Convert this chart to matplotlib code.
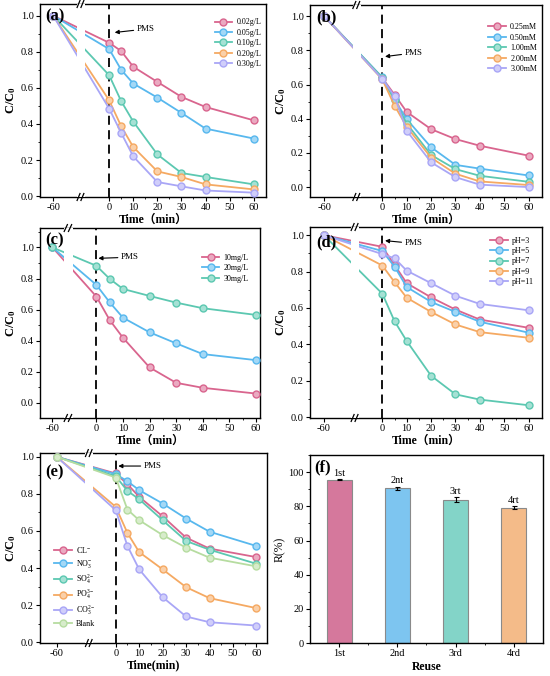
import matplotlib
matplotlib.use('Agg')
import matplotlib.pyplot as plt
from matplotlib.ticker import FixedLocator, MultipleLocator
from matplotlib.colors import to_rgb

plt.rcParams['font.family'] = ['Liberation Serif', 'Noto Sans CJK SC']
plt.rcParams['mathtext.fontset'] = 'custom'
plt.rcParams['mathtext.rm'] = 'Liberation Serif'
plt.rcParams['mathtext.it'] = 'Liberation Serif:italic'
plt.rcParams['mathtext.bf'] = 'Liberation Serif:bold'

# ---- data ----
time = [-60, 0, 5, 10, 20, 30, 40, 60]

# (a) catalyst dosage
a_labels = ['0.02g/L', '0.05g/L', '0.10g/L', '0.20g/L', '0.30g/L']
a_002 = [1.0, 0.85, 0.804, 0.717, 0.633, 0.55, 0.494, 0.42]
a_005 = [1.0, 0.815, 0.70, 0.624, 0.546, 0.461, 0.374, 0.319]
a_010 = [1.0, 0.67, 0.526, 0.413, 0.231, 0.128, 0.106, 0.065]
a_020 = [1.0, 0.531, 0.387, 0.272, 0.137, 0.106, 0.065, 0.037]
a_030 = [1.0, 0.485, 0.35, 0.22, 0.078, 0.054, 0.031, 0.019]

# (b) PMS dosage
b_labels = ['0.25mM', '0.50mM', '1.00mM', '2.00mM', '3.00mM']
b_025 = [1.0, 0.638, 0.541, 0.44, 0.339, 0.281, 0.242, 0.184]
b_050 = [1.0, 0.642, 0.513, 0.397, 0.233, 0.13, 0.108, 0.068]
b_100 = [1.0, 0.64, 0.508, 0.372, 0.188, 0.105, 0.066, 0.031]
b_200 = [1.0, 0.63, 0.477, 0.353, 0.172, 0.078, 0.033, 0.012]
b_300 = [1.0, 0.632, 0.532, 0.33, 0.145, 0.058, 0.014, 0.0]

# (c) pollutant concentration
c_labels = ['10mg/L', '20mg/L', '30mg/L']
c_10 = [1.0, 0.684, 0.533, 0.419, 0.228, 0.129, 0.097, 0.06]
c_20 = [1.0, 0.759, 0.647, 0.548, 0.454, 0.383, 0.314, 0.275]
c_30 = [1.0, 0.882, 0.798, 0.733, 0.688, 0.645, 0.609, 0.566]

# (d) pH
d_labels = ['pH=3', 'pH=5', 'pH=7', 'pH=9', 'pH=11']
d_ph3 = [1.0, 0.936, 0.836, 0.736, 0.658, 0.591, 0.536, 0.491]
d_ph5 = [1.0, 0.913, 0.827, 0.715, 0.633, 0.578, 0.524, 0.464]
d_ph7 = [1.0, 0.678, 0.527, 0.418, 0.227, 0.125, 0.096, 0.065]
d_ph9 = [1.0, 0.833, 0.742, 0.656, 0.578, 0.509, 0.467, 0.436]
d_ph11 = [1.0, 0.896, 0.873, 0.805, 0.736, 0.667, 0.622, 0.587]

# (e) coexisting anions
e_labels = ['CL$^{-}$', 'NO$_3^{-}$', 'SO$_4^{2-}$', 'PO$_4^{3-}$', 'CO$_3^{2-}$', 'Blank']
e_cl = [1.0, 0.91, 0.852, 0.784, 0.679, 0.564, 0.505, 0.459]
e_no3 = [1.0, 0.906, 0.868, 0.82, 0.748, 0.667, 0.596, 0.519]
e_so4 = [1.0, 0.895, 0.816, 0.771, 0.658, 0.546, 0.499, 0.423]
e_po4 = [1.0, 0.73, 0.589, 0.486, 0.393, 0.297, 0.238, 0.184]
e_co3 = [1.0, 0.712, 0.519, 0.393, 0.243, 0.139, 0.108, 0.09]
e_blank = [1.0, 0.888, 0.715, 0.658, 0.578, 0.51, 0.456, 0.409]

# (f) reuse
f_cycles = ['1st', '2nd', '3rd', '4rd']
f_tags = ['1st', '2nt', '3rt', '4rt']
f_removal = [95.5, 90.6, 84.0, 79.3]
f_err = [0.3, 1.0, 1.5, 1.0]

pink = '#d9658e'
blue = '#58b8ee'
teal = '#5cc8b1'
orange = '#f5a962'
lav = '#a9a6f6'
green = '#b6dca0'
bar_colors = ['#d5789c', '#7dc5f0', '#83d4c8', '#f4bb89']


def light(c, f=0.45):
    r, g, b = to_rgb(c)
    return (r + (1 - r) * f, g + (1 - g) * f, b + (1 - b) * f)


def style_axes(ax):
    for s in ax.spines.values():
        s.set_linewidth(1.0)
    ax.tick_params(which='major', direction='out', length=3, width=0.8,
                   labelsize=7.5, pad=1.5)
    ax.tick_params(which='minor', direction='out', length=1.6, width=0.6)


def time_panel(ax, series, labels, colors, x60, brk, ylim, xlim,
               pms_xy, pms_txt, leg_loc, leg_anchor, tag, tag_xy, xlabel):
    xs = [x60 if t == -60 else t for t in time]
    for ys, lab, c in zip(series, labels, colors):
        ax.plot(xs, ys, '-o', color=c, lw=1.3, ms=5, mfc=light(c), mec=c,
                mew=1.0, label=lab, zorder=3)
    ax.axvline(0, color='k', ls=(0, (5, 3)), lw=1.3, zorder=2)
    # axis break
    ax.axvspan(brk - 1.6, brk + 1.6, color='white', zorder=4, lw=0)
    tr = ax.get_xaxis_transform()
    for yy in (0, 1):
        for dx in (-1.2, 0.4):
            ax.plot([brk + dx - 0.4, brk + dx + 0.8], [yy - 0.018, yy + 0.018],
                    color='k', lw=0.9, transform=tr, clip_on=False, zorder=6)
    ax.set_xlim(*xlim)
    ax.set_ylim(*ylim)
    ax.set_xticks([x60, 0, 10, 20, 30, 40, 50, 60])
    ax.set_xticklabels(['-60', '0', '10', '20', '30', '40', '50', '60'])
    ax.xaxis.set_minor_locator(FixedLocator([5, 15, 25, 35, 45, 55]))
    ax.set_yticks([0, 0.2, 0.4, 0.6, 0.8, 1.0])
    ax.yaxis.set_minor_locator(MultipleLocator(0.1))
    ax.annotate('PMS', xy=pms_xy, xytext=pms_txt, fontsize=6.5, va='center',
                arrowprops=dict(arrowstyle='-|>', color='k', lw=0.8,
                                mutation_scale=6, shrinkA=0, shrinkB=0))
    ax.legend(loc=leg_loc, bbox_to_anchor=leg_anchor, frameon=False,
              fontsize=5.8, handlelength=2.2, labelspacing=0.3,
              borderaxespad=0.2, handletextpad=0.5)
    ax.text(tag_xy[0], tag_xy[1], tag, transform=ax.transAxes, fontsize=12,
            fontweight='bold', va='top', ha='left', zorder=7)
    ax.set_xlabel(xlabel, fontsize=8.5, fontweight='bold', labelpad=1)
    ax.set_ylabel(r'$\mathbf{C/C_0}$', fontsize=9, labelpad=2)
    style_axes(ax)


fig = plt.figure(figsize=(5.5, 6.76), dpi=100)

ax_a = fig.add_axes([0.0727, 0.7086, 0.411, 0.2855])
ax_b = fig.add_axes([0.5636, 0.7086, 0.4218, 0.284])
ax_c = fig.add_axes([0.0727, 0.3817, 0.400, 0.281])
ax_d = fig.add_axes([0.5636, 0.3817, 0.4218, 0.2825])
ax_e = fig.add_axes([0.0727, 0.0488, 0.4127, 0.281])
ax_f = fig.add_axes([0.5636, 0.0488, 0.4236, 0.278])

time_panel(ax_a, [a_002, a_005, a_010, a_020, a_030], a_labels,
           [pink, blue, teal, orange, lav], -23.2, -11.7, (-0.005, 1.065),
           (-28.7, 65.1), (2.3, 0.907), (11.3, 0.926),
           'upper right', (1.0, 0.95), '(a)', (0.025, 0.975), 'Time（min）')

time_panel(ax_b, [b_025, b_050, b_100, b_200, b_300], b_labels,
           [pink, blue, teal, orange, lav], -23.8, -10.5, (-0.058, 1.066),
           (-29.7, 65.5), (1.1, 0.764), (9.0, 0.785),
           'upper right', (1.0, 0.93), '(b)', (0.025, 0.975), 'Time（min）')

time_panel(ax_c, [c_10, c_20, c_30], c_labels,
           [pink, blue, teal], -16.5, -10.5, (-0.097, 1.125),
           (-21.2, 61.5), (0.75, 0.93), (9.1, 0.937),
           'upper right', (0.97, 0.89), '(c)', (0.025, 0.975), 'Time（min）')

time_panel(ax_d, [d_ph3, d_ph5, d_ph7, d_ph9, d_ph11], d_labels,
           [pink, blue, teal, orange, lav], -24.0, -11.2, (-0.005, 1.045),
           (-29.7, 65.5), (1.1, 0.97), (9.0, 0.955),
           'upper right', (0.985, 0.975), '(d)', (0.025, 0.96), 'Time（min）')

time_panel(ax_e, [e_cl, e_no3, e_so4, e_po4, e_co3, e_blank], e_labels,
           [pink, blue, teal, orange, lav, green], -25.2, -11.3, (-0.004, 1.02),
           (-32.3, 64.5), (1.1, 0.95), (11.8, 0.95),
           'upper left', (0.04, 0.54), '(e)', (0.025, 0.94), 'Time(min)')

# (f) reuse bars
xb = range(len(f_cycles))
ax_f.bar(xb, f_removal, width=0.43, color=bar_colors, edgecolor='#8a8a8a',
         linewidth=0.8, zorder=2)
ax_f.errorbar(xb, f_removal, yerr=f_err, fmt='none', ecolor='k', elinewidth=0.8,
              capsize=1.8, capthick=0.8, zorder=3)
for i, (v, e, t) in enumerate(zip(f_removal, f_err, f_tags)):
    ax_f.text(i, v + e + 0.6, t, ha='center', va='bottom', fontsize=7.5)
ax_f.set_xlim(-0.5, 3.5)
ax_f.set_ylim(0, 110)
ax_f.set_xticks(list(xb))
ax_f.set_xticklabels(f_cycles)
ax_f.xaxis.set_minor_locator(FixedLocator([0.5, 1.5, 2.5]))
ax_f.set_yticks([0, 20, 40, 60, 80, 100])
ax_f.yaxis.set_minor_locator(MultipleLocator(10))
ax_f.set_xlabel('Reuse', fontsize=8.5, fontweight='bold', labelpad=2)
ax_f.set_ylabel('R(%)', fontsize=8.5, labelpad=2)
ax_f.text(0.02, 0.975, '(f)', transform=ax_f.transAxes, fontsize=12,
          fontweight='bold', va='top', ha='left')
style_axes(ax_f)

fig.savefig('out.png', dpi=100)
